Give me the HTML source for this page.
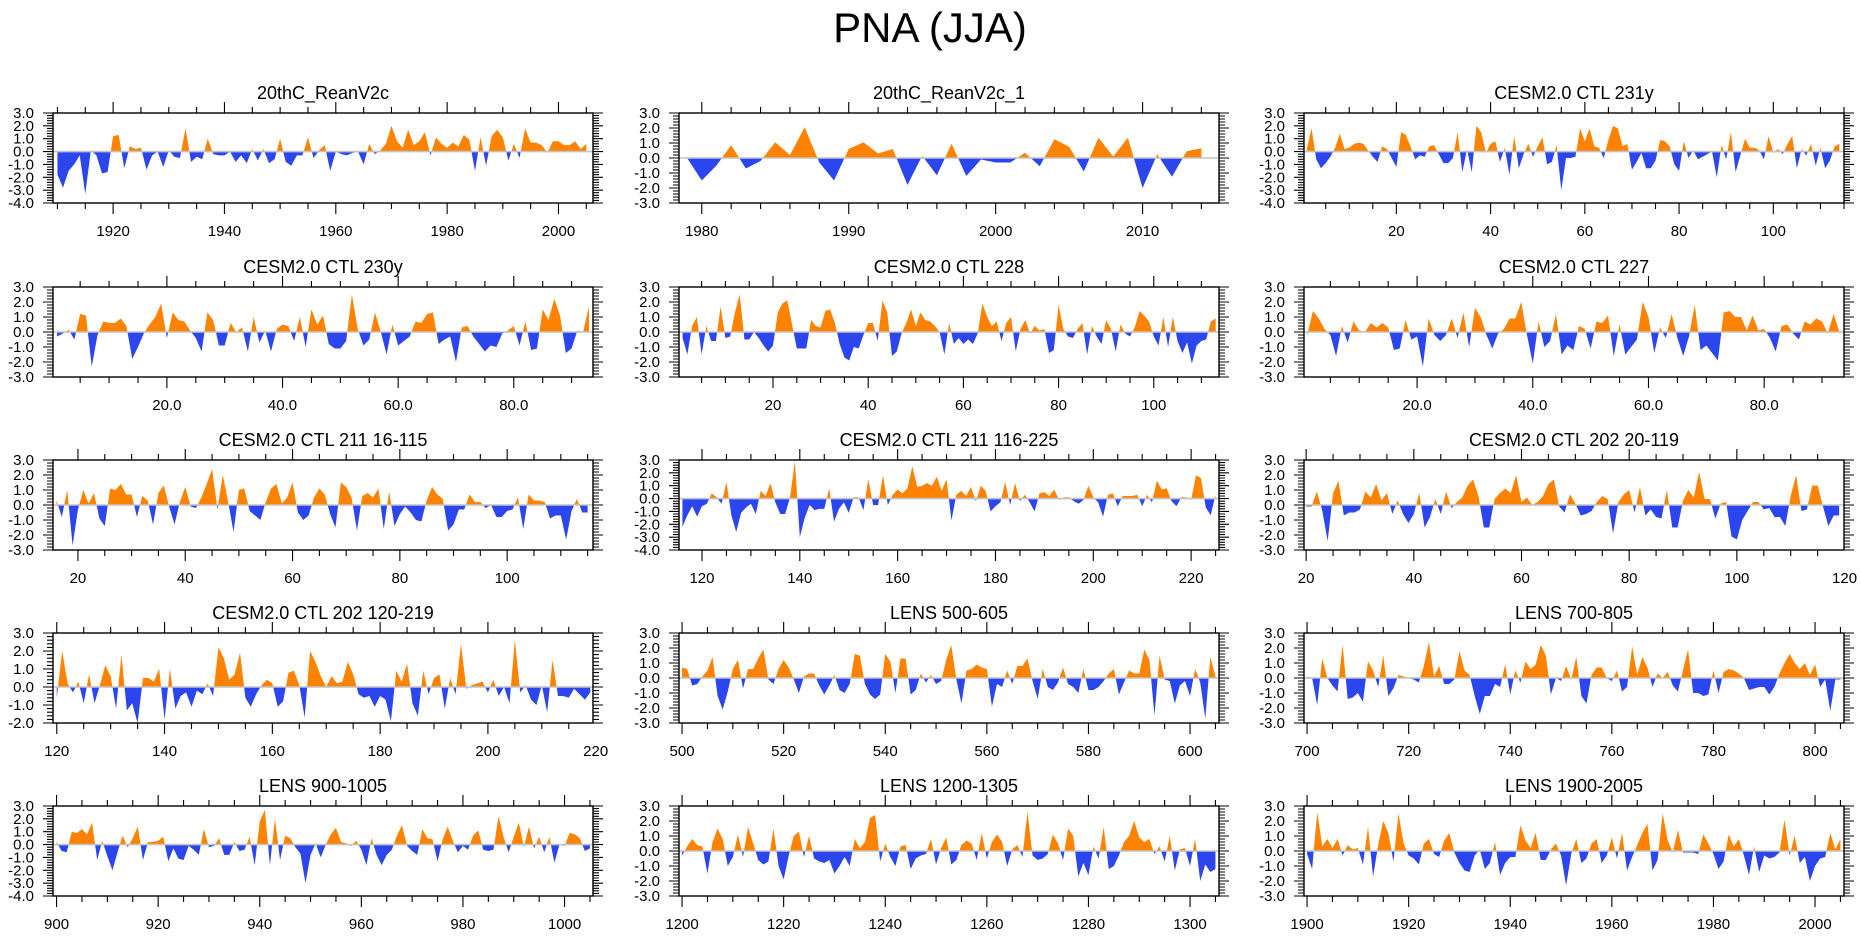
<!DOCTYPE html>
<html>
<head>
<meta charset="utf-8">
<style>
  html,body{margin:0;padding:0;background:#fff;}
  body{width:1861px;height:936px;overflow:hidden;font-family:"Liberation Sans",Arial,sans-serif;}
  svg text{font-family:"Liberation Sans",Arial,sans-serif;}
</style>
</head>
<body>
<svg id="fig" width="1861" height="936" viewBox="0 0 1861 936" xmlns="http://www.w3.org/2000/svg">
  <text x="930" y="42" font-size="42" text-anchor="middle" fill="#000">PNA (JJA)</text>
</svg>
<script>
// ---- data arrays (values per year/step) ----
const p1Title = "20thC_ReanV2c";
const p1Start = 1910;
const p1Values = [-1.8,-2.8,-1.5,-1.0,-0.3,-3.3,0.1,-0.3,-1.7,-1.6,1.2,1.3,-1.3,0.4,0.2,0.3,-1.4,-0.3,0.0,-1.2,0.1,-0.4,-0.5,1.8,-0.8,-0.4,-0.6,1.0,-0.2,-0.3,-0.3,0.0,-0.8,-0.3,-0.9,0.2,-0.7,0.2,-0.9,-0.6,1.0,-0.8,-1.1,-0.3,-0.3,1.1,-0.5,0.1,0.5,-1.5,0.0,-0.2,-0.3,-0.1,0.0,-1.0,0.6,-0.2,0.1,0.6,2.0,0.8,0.3,1.7,0.5,0.8,1.5,-0.3,1.1,0.6,0.3,0.7,0.4,1.3,0.9,-1.5,1.1,-1.1,1.2,1.7,1.1,-0.7,0.6,-0.5,1.8,0.7,0.7,0.5,-0.1,0.8,0.8,0.5,0.5,0.8,0.2,0.6];
const p1Ticks = [1920,1940,1960,1980,2000];

const p2Title = "20thC_ReanV2c_1";
const p2Start = 1979;
const p2Values = [0.0,-1.5,-0.5,0.85,-0.7,-0.2,1.05,0.2,2.05,-0.3,-1.5,0.6,1.05,0.3,0.6,-1.8,0.15,-1.15,0.95,-1.2,-0.1,-0.3,-0.3,0.35,-0.55,1.25,0.75,-0.9,1.35,0.1,1.35,-2.0,0.25,-1.25,0.45,0.65];
const p2Ticks = [1980,1990,2000,2010];

const p3Title = "CESM2.0 CTL 231y";
const p3Start = 1;
const p3Values = [0.2,1.8,-0.6,-1.3,-0.9,-0.4,0.3,1.4,0.2,0.3,0.6,0.7,0.6,0.1,-0.4,-0.8,0.4,0.2,-0.5,-1.2,1.5,1.3,0.4,-0.6,-0.3,-0.4,0.4,0.5,-0.2,-0.9,-0.9,-0.5,1.5,-1.6,0.2,-1.6,2.0,1.5,-0.1,0.6,0.8,-0.8,0.3,-1.8,1.2,-1.3,-0.2,0.6,-0.4,0.4,1.1,-1.0,-0.8,0.5,-3.0,-0.5,-0.5,-0.4,1.8,0.8,1.8,0.4,0.3,-0.5,0.9,2.0,1.8,0.4,0.6,-1.4,-0.8,-0.1,-1.3,-1.3,-0.7,0.9,0.8,0.4,-1.0,-1.5,0.8,-0.5,0.1,-0.6,-0.4,-0.2,0.0,-2.0,0.5,-0.6,1.5,-1.6,-0.3,1.0,0.3,0.3,0.1,-0.6,1.2,-0.1,0.2,-0.2,0.6,1.2,-1.3,0.2,-0.3,0.6,-1.1,0.3,-1.3,-0.7,0.4,0.6];
const p3Ticks = [20,40,60,80,100];

const p4Title = "CESM2.0 CTL 230y";
const p4Start = 1;
const p4Values = [-0.3,-0.1,0.15,-0.5,1.2,1.1,-2.3,-0.2,0.7,0.6,0.6,0.9,0.4,-1.8,-1.0,-0.1,0.5,1.0,1.9,-0.4,1.3,0.8,0.7,0.1,-0.4,-1.3,1.3,0.8,-0.9,-0.9,0.6,0.0,0.3,-1.3,1.0,-0.7,0.1,-1.3,0.2,0.5,0.4,-0.6,1.0,-1.0,1.5,0.5,1.1,-0.8,-1.1,-1.1,-0.6,2.5,0.2,-0.9,-0.5,1.3,0.0,-1.5,0.5,-0.9,-0.6,-0.3,0.7,0.6,1.2,1.3,-0.8,-0.5,-0.3,-2.0,0.3,0.4,-0.3,-0.8,-1.3,-0.9,-1.0,-0.1,0.1,0.4,-0.9,0.7,-1.2,-1.1,1.5,0.8,2.2,1.1,-1.4,-1.1,0.1,0.0,1.7];
const p4Ticks = [20,40,60,80];

const p5Title = "CESM2.0 CTL 228";
const p5Start = 1;
const p5Values = [-0.4,-1.5,0.4,1.0,-1.5,0.4,-0.6,-0.6,1.7,-0.4,-0.3,1.3,2.5,-0.5,-0.5,0.0,-0.4,-0.9,-1.3,-0.9,1.3,1.9,2.1,0.5,-1.1,-1.1,-1.1,0.8,0.4,0.3,1.4,1.5,0.6,-0.8,-1.7,-1.9,-1.0,-1.1,-0.2,0.6,0.6,-0.6,2.1,1.3,-1.6,-1.3,-0.1,0.6,1.5,0.4,1.3,0.8,0.7,0.4,0.0,-1.5,0.6,-0.8,-0.4,-0.8,-0.5,-0.8,-0.1,1.9,1.0,0.4,0.7,-0.6,0.6,1.0,-1.3,0.2,0.8,-0.1,0.4,0.1,0.2,-1.4,-1.2,1.8,0.2,-0.3,-0.4,0.2,0.6,-1.5,0.4,-0.3,-0.8,0.8,0.2,-1.3,0.5,-0.1,-0.3,0.3,1.4,1.1,0.7,-0.3,-0.9,1.0,-1.0,1.0,-0.6,-1.4,-0.7,-2.1,-0.9,-0.6,-0.5,0.7,0.9];
const p5Ticks = [20,40,60,80,100];

const p6Title = "CESM2.0 CTL 227";
const p6Start = 1;
const p6Values = [-0.2,1.4,0.9,0.2,-0.2,-1.6,0.4,-0.7,0.7,0.1,0.0,0.6,0.3,0.6,0.3,-1.2,-1.1,0.8,-0.5,-0.3,-2.3,0.9,-0.2,-0.6,-0.2,0.9,-0.4,1.3,-1.0,1.6,1.0,-0.2,-1.1,-0.1,0.2,0.9,0.9,2.0,-0.2,-2.1,0.7,-1.0,-0.6,1.2,-1.5,-0.9,-1.2,0.4,0.2,-1.1,0.7,0.6,1.1,-1.6,0.5,-1.5,-1.0,-0.5,2.0,1.0,-1.4,0.3,-0.4,1.2,-0.4,-1.6,-0.3,1.8,-1.2,-0.9,-1.4,-1.9,1.3,1.4,1.0,1.0,0.1,1.1,0.1,0.2,-0.4,-1.3,0.4,0.5,-0.1,-0.5,0.7,0.5,0.9,0.7,-0.1,1.2,0.0];
const p6Ticks = [20,40,60,80];

const p7Title = "CESM2.0 CTL 211 16-115";
const p7Start = 16;
const p7Values = [0.3,-0.8,1.0,-2.7,-0.3,1.0,0.1,0.8,-0.9,-1.4,1.1,1.0,1.4,0.7,0.7,-0.8,0.6,0.3,-1.3,0.8,1.3,-0.1,-1.3,0.2,1.2,-0.1,-0.2,0.5,1.4,2.4,-0.3,2.0,0.2,-1.8,1.0,1.1,-0.4,-0.7,-1.0,0.2,1.1,1.4,0.1,0.5,1.5,-0.5,-1.0,-0.7,0.5,1.1,0.7,-0.6,-1.5,1.5,1.2,0.5,-1.7,0.6,0.8,0.5,1.1,-1.6,0.9,-1.4,-0.6,-0.1,-0.5,-1.0,-1.1,0.3,1.2,0.7,0.4,-1.7,-1.3,-0.3,-0.3,0.7,0.2,0.2,-0.2,0.0,-0.8,-0.8,-0.4,-0.3,0.5,-1.6,0.7,0.3,0.3,0.2,-0.9,-0.7,-0.7,-2.3,-0.4,0.4,-0.5,-0.5];
const p7Ticks = [20,40,60,80,100];

const p8Title = "CESM2.0 CTL 211 116-225";
const p8Start = 116;
const p8Values = [-2.2,-1.3,-0.6,-1.4,-0.6,-0.4,0.4,0.1,-0.4,1.3,-1.3,-2.6,-1.1,-0.7,-0.4,-1.2,0.6,0.2,1.2,-0.3,-1.2,-1.2,0.1,2.9,-3.0,-1.5,-0.5,-0.9,-0.8,-0.8,0.8,-1.8,-0.8,-0.3,-1.1,0.1,0.1,-0.9,1.5,-0.5,-0.5,1.8,-0.5,0.3,0.7,0.4,0.8,2.5,0.9,1.0,1.2,1.0,1.7,0.6,1.5,-1.7,0.3,0.6,0.2,0.9,-0.2,1.0,0.6,-1.0,-0.6,-0.3,1.3,-0.5,1.2,-0.2,0.3,-0.3,-1.0,0.4,0.5,0.2,0.7,-0.1,0.1,0.1,-0.2,-0.4,-0.1,1.0,0.1,-0.3,-1.4,0.3,0.4,-0.6,0.2,0.2,0.2,0.3,-0.6,0.3,-0.3,1.4,0.7,0.8,-0.2,-0.6,0.1,0.1,-0.1,1.8,1.6,-0.7,-1.3,0.3];
const p8Ticks = [120,140,160,180,200,220];

const p9Title = "CESM2.0 CTL 202 20-119";
const p9Start = 20;
const p9Values = [-0.1,-0.1,0.9,-0.4,-2.4,0.8,1.6,-0.7,-0.5,-0.5,-0.3,0.9,0.5,1.4,0.3,0.8,-0.6,0.3,-0.6,-1.2,-0.6,0.8,-1.5,-0.8,0.4,-0.6,0.9,-0.2,0.2,0.5,1.3,1.7,0.6,-1.5,-1.5,0.4,0.8,1.1,0.8,2.0,0.2,0.5,0.0,0.2,0.6,1.4,1.7,-0.1,-0.5,0.7,0.1,-0.7,-0.6,-0.4,0.2,0.6,0.4,-1.9,0.2,0.7,1.0,-0.5,1.2,-0.7,-0.3,-0.8,-0.9,1.0,-1.5,-1.5,0.3,1.0,0.5,2.2,0.4,0.4,-0.9,0.1,0.2,-2.1,-2.3,-1.0,-0.4,0.2,0.2,-0.3,-0.2,-0.8,-0.8,-1.4,0.6,2.0,-0.4,-0.3,1.3,1.3,-0.1,-1.4,-0.7,-0.7];
const p9Ticks = [20,40,60,80,100,120];

const p10Title = "CESM2.0 CTL 202 120-219";
const p10Start = 120;
const p10Values = [-0.6,2.0,0.2,-0.3,0.3,-0.9,0.7,-0.9,0.1,1.2,0.6,-1.2,1.8,-1.3,-0.9,-2.0,0.5,0.5,0.3,1.0,-1.8,1.0,-1.2,-0.5,-0.3,-1.1,-0.2,-0.4,0.2,-0.5,2.2,1.6,0.4,0.7,1.9,-0.6,-1.1,-0.4,0.1,0.4,0.2,-1.1,-0.8,0.8,0.9,0.1,-1.7,2.0,1.4,0.6,0.0,0.6,0.2,0.3,1.4,0.7,-0.4,-0.6,-0.5,-1.1,-0.5,-0.7,-1.9,0.9,0.3,1.3,-0.9,-1.6,0.9,-0.4,0.5,0.7,-1.2,0.5,-0.4,2.4,-0.1,0.1,0.2,0.3,-0.3,0.4,-0.5,0.0,-0.9,2.6,-0.3,0.1,-0.7,-1.0,0.1,-1.4,1.5,-0.5,-0.5,-0.6,-0.1,-0.4,-0.7,-0.3];
const p10Ticks = [120,140,160,180,200,220];

const p11Title = "LENS 500-605";
const p11Start = 500;
const p11Values = [0.7,0.6,-0.5,-0.4,0.1,0.5,1.4,-1.2,-2.1,-0.9,0.6,1.2,-0.7,0.6,0.6,1.3,1.9,-0.1,-0.4,0.6,1.2,0.7,-0.1,-1.0,0.1,0.3,0.3,-0.5,-1.1,-0.5,0.2,-0.8,-1.0,-0.4,1.6,1.5,-0.4,-1.1,-1.4,-1.1,1.6,1.1,-1.0,1.3,1.3,-1.1,-0.8,0.3,-0.3,0.2,-0.4,-0.2,1.2,2.2,-0.1,-1.7,0.5,0.6,0.9,0.7,0.6,-1.9,-0.4,-0.6,0.5,-0.4,0.8,0.8,1.3,-0.2,-1.4,0.6,-0.6,-0.8,-0.3,0.7,-0.4,-0.6,-1.0,0.6,-0.8,-0.8,-0.6,-0.2,0.3,0.6,-1.1,-0.3,0.5,0.3,0.3,1.9,1.2,-2.5,1.5,-0.1,-0.2,-1.7,-0.5,-0.2,-1.2,0.6,-0.3,-2.7,1.4,0.1];
const p11Ticks = [500,520,540,560,580,600];

const p12Title = "LENS 700-805";
const p12Start = 700;
const p12Values = [0.1,0.0,-1.8,1.3,0.0,-0.5,-0.9,2.2,-1.4,-1.3,-1.0,-1.6,1.1,0.5,-0.6,1.5,-1.2,-0.7,0.2,0.1,0.0,-0.1,-0.3,0.8,2.4,0.1,0.8,-0.4,-0.4,-0.1,1.8,0.5,0.2,-1.2,-2.4,-1.2,-1.2,-0.4,-0.6,0.9,-1.1,0.5,-0.3,1.1,0.6,0.9,2.2,1.5,-1.1,0.0,-0.2,0.8,-0.1,1.4,-1.2,-1.7,0.2,0.7,0.7,0.0,-0.2,0.5,-0.9,-0.6,2.1,0.2,1.4,0.7,-0.6,0.3,0.0,0.4,-0.5,-0.9,0.5,1.9,-1.0,-1.0,-1.2,-1.1,0.5,-1.0,0.4,0.6,0.5,0.3,0.0,-0.8,-0.7,-0.6,-0.6,-1.1,-0.6,0.3,1.0,1.6,1.0,0.6,1.0,0.2,0.9,-0.6,-0.1,-2.2,-0.1,-0.1];
const p12Ticks = [700,720,740,760,780,800];

const p13Title = "LENS 900-1005";
const p13Start = 900;
const p13Values = [0.2,-0.5,-0.6,1.0,0.9,1.2,0.8,1.7,-1.2,0.3,-0.9,-2.0,-0.6,0.7,-0.2,0.5,1.4,-1.2,0.2,0.2,0.3,0.6,-1.3,-0.3,-1.1,-1.2,-0.1,-0.4,-0.8,1.2,-0.2,-0.1,0.5,-0.8,-0.8,0.2,-0.5,-0.4,0.6,-1.6,1.8,2.7,-1.6,2.0,-1.2,0.7,0.5,-0.2,-0.7,-3.0,-0.8,0.1,-1.0,0.0,0.8,1.3,0.2,0.1,-0.1,0.3,-0.4,-1.6,0.5,-0.8,-1.6,-0.8,-0.4,0.7,1.5,-0.1,-0.5,-0.8,1.2,0.5,0.4,-1.3,0.4,1.4,0.3,-0.6,-0.1,-0.4,0.7,1.1,-0.4,-0.5,-0.4,2.2,0.6,-0.6,0.6,1.7,-0.2,1.4,-0.3,0.6,-0.6,0.6,-1.4,0.0,-0.1,0.9,0.8,0.5,-0.5,-0.3];
const p13Ticks = [900,920,940,960,980,1000];

const p14Title = "LENS 1200-1305";
const p14Start = 1200;
const p14Values = [-0.3,0.3,0.8,0.4,0.3,-1.5,0.6,1.5,0.8,-1.0,-0.4,1.1,-0.4,1.6,0.5,-0.6,-0.9,-0.7,1.5,-1.0,-1.9,-0.3,1.0,1.3,-0.4,1.0,-0.5,-0.7,-0.8,-0.6,-1.5,-1.0,-0.4,-1.0,0.8,0.2,0.6,2.2,2.4,-0.7,0.5,-0.4,-1.0,0.3,0.4,-1.2,-0.5,-0.3,-0.2,0.8,-0.9,0.2,0.9,-0.9,-0.6,0.4,0.7,0.5,-0.6,1.2,-0.5,0.6,1.1,0.6,-1.0,0.1,0.4,-0.4,2.6,-0.3,-0.6,-0.5,-0.2,1.1,0.5,-0.6,1.5,1.0,-1.7,-0.8,-1.6,0.3,-0.5,1.6,-1.2,-1.0,-0.3,0.6,1.0,2.0,0.9,0.6,0.8,-0.2,0.3,-0.7,1.0,-1.3,0.1,0.2,-1.0,0.8,-2.0,-0.9,-1.4,-1.2];
const p14Ticks = [1200,1220,1240,1260,1280,1300];

const p15Title = "LENS 1900-2005";
const p15Start = 1900;
const p15Values = [-0.2,-1.2,2.6,0.3,0.8,0.2,0.8,-0.3,0.4,0.1,0.2,-0.9,1.6,-1.7,0.4,2.0,1.2,-0.7,2.5,0.5,-0.3,-0.5,-0.9,0.5,0.8,-0.2,-0.4,0.7,1.2,-0.1,-0.8,-1.3,-1.4,-0.3,0.1,-1.2,-0.8,0.6,-1.6,-0.8,-0.4,-0.4,1.7,0.7,0.2,1.2,-0.6,-0.6,0.1,0.5,-0.3,-2.3,-0.2,0.8,-0.8,-0.5,0.5,0.8,-0.8,-0.3,0.9,-0.5,1.2,-1.3,-0.4,0.4,1.2,1.8,-1.3,-0.6,2.5,0.7,-0.1,1.4,-0.1,-0.1,-0.1,-0.2,1.1,0.5,-0.2,-1.2,-0.7,1.1,0.3,0.8,-0.3,-1.6,0.3,-1.4,-0.3,-0.5,-0.4,-0.1,2.1,-0.3,1.0,-0.8,-0.4,-2.0,-1.0,-0.5,-0.4,1.2,0.1,0.8];
const p15Ticks = [1900,1920,1940,1960,1980,2000];

// ---- layout (not data) ----
const SVGNS = "http://www.w3.org/2000/svg";
const fig = document.getElementById('fig');
const colLeft = [53, 679, 1304];
const rowTop = [113, 287, 460, 633, 806];
const PW = 540, PH = 90;

const panels = [
  {t:p1Title, s:p1Start, v:p1Values, ticks:p1Ticks, xmin:1909.2, xmax:2006.2, ymin:-4, minor:5, dec:0, name:"reanv2c"},
  {t:p2Title, s:p2Start, v:p2Values, ticks:p2Ticks, xmin:1978.45, xmax:2015.2, ymin:-3, minor:2, dec:0, name:"reanv2c-1"},
  {t:p3Title, s:p3Start, v:p3Values, ticks:p3Ticks, xmin:0.4, xmax:115.0, ymin:-4, minor:5, dec:0, name:"ctl-231y"},
  {t:p4Title, s:p4Start, v:p4Values, ticks:p4Ticks, xmin:0.3, xmax:93.7, ymin:-3, minor:5, dec:1, name:"ctl-230y"},
  {t:p5Title, s:p5Start, v:p5Values, ticks:p5Ticks, xmin:0.25, xmax:113.7, ymin:-3, minor:5, dec:0, name:"ctl-228"},
  {t:p6Title, s:p6Start, v:p6Values, ticks:p6Ticks, xmin:0.45, xmax:93.8, ymin:-3, minor:5, dec:1, name:"ctl-227"},
  {t:p7Title, s:p7Start, v:p7Values, ticks:p7Ticks, xmin:15.35, xmax:116.0, ymin:-3, minor:5, dec:0, name:"ctl-211-16-115"},
  {t:p8Title, s:p8Start, v:p8Values, ticks:p8Ticks, xmin:115.3, xmax:225.7, ymin:-4, minor:5, dec:0, name:"ctl-211-116-225"},
  {t:p9Title, s:p9Start, v:p9Values, ticks:p9Ticks, xmin:19.6, xmax:119.9, ymin:-3, minor:5, dec:0, name:"ctl-202-20-119"},
  {t:p10Title, s:p10Start, v:p10Values, ticks:p10Ticks, xmin:119.3, xmax:219.5, ymin:-2, minor:5, dec:0, name:"ctl-202-120-219"},
  {t:p11Title, s:p11Start, v:p11Values, ticks:p11Ticks, xmin:499.4, xmax:605.7, ymin:-3, minor:5, dec:0, name:"lens-500-605"},
  {t:p12Title, s:p12Start, v:p12Values, ticks:p12Ticks, xmin:699.4, xmax:805.7, ymin:-3, minor:5, dec:0, name:"lens-700-805"},
  {t:p13Title, s:p13Start, v:p13Values, ticks:p13Ticks, xmin:899.3, xmax:1005.6, ymin:-4, minor:5, dec:0, name:"lens-900-1005"},
  {t:p14Title, s:p14Start, v:p14Values, ticks:p14Ticks, xmin:1199.4, xmax:1305.7, ymin:-3, minor:5, dec:0, name:"lens-1200-1305"},
  {t:p15Title, s:p15Start, v:p15Values, ticks:p15Ticks, xmin:1899.4, xmax:2005.7, ymin:-3, minor:5, dec:0, name:"lens-1900-2005"}
];

function mk(tag, attrs, parent){
  const e = document.createElementNS(SVGNS, tag);
  for (const k in attrs) e.setAttribute(k, attrs[k]);
  parent.appendChild(e);
  return e;
}

panels.forEach((p, idx) => {
  const L = colLeft[idx % 3], T = rowTop[Math.floor(idx / 3)];
  const R = L + PW, B = T + PH;
  const ymax = 3, ymin = p.ymin;
  const sx = x => L + (x - p.xmin) / (p.xmax - p.xmin) * PW;
  const sy = y => T + (ymax - y) / (ymax - ymin) * PH;

  const g = mk('g', {}, fig);
  
  

  // title
  const tt = mk('text', {x: L + PW/2, y: T - 14, 'font-size': 18, 'text-anchor': 'middle', fill: '#000'}, g);
  tt.textContent = p.t;
  
  

  // build points with zero crossings
  const pts = [];
  for (let i = 0; i < p.v.length; i++) {
    const x = p.s + i, y = p.v[i];
    if (i > 0) {
      const x0 = p.s + i - 1, y0 = p.v[i-1];
      if ((y0 > 0 && y < 0) || (y0 < 0 && y > 0)) {
        const xc = x0 + (0 - y0) / (y - y0);
        pts.push([xc, 0]);
      }
    }
    pts.push([x, y]);
  }
  const first = pts[0][0], last = pts[pts.length-1][0];
  let posD = 'M' + sx(first).toFixed(2) + ',' + sy(0).toFixed(2);
  let negD = posD;
  pts.forEach(pt => {
    posD += ' L' + sx(pt[0]).toFixed(2) + ',' + sy(Math.max(pt[1], 0)).toFixed(2);
    negD += ' L' + sx(pt[0]).toFixed(2) + ',' + sy(Math.min(pt[1], 0)).toFixed(2);
  });
  posD += ' L' + sx(last).toFixed(2) + ',' + sy(0).toFixed(2) + ' Z';
  negD += ' L' + sx(last).toFixed(2) + ',' + sy(0).toFixed(2) + ' Z';

  const pos = mk('path', {d: posD, fill: '#ff8200', stroke: 'none'}, g);
  
  
  const neg = mk('path', {d: negD, fill: '#2b46ee', stroke: 'none'}, g);
  
  

  // zero reference line
  const zl = mk('line', {x1: L, x2: R, y1: sy(0), y2: sy(0), stroke: '#c4c4c4', 'stroke-width': 1.6}, g);
  
  

  // ticks
  let tickD = '';
  // y ticks (left and right, outward)
  for (let k = 0; k <= (ymax - ymin) * 5; k++) {
    const val = ymin + k * 0.2;
    const y = sy(val).toFixed(2);
    const major = (k % 5 === 0);
    const len = major ? 10 : 6;
    tickD += 'M' + L + ',' + y + 'h' + (-len) + ' M' + R + ',' + y + 'h' + len + ' ';
  }
  // x ticks (bottom and top, outward)
  const mstart = Math.ceil(p.xmin / p.minor) * p.minor;
  for (let x = mstart; x <= p.xmax; x += p.minor) {
    const major = p.ticks.indexOf(x) >= 0;
    const len = major ? 11 : 6;
    const X = sx(x).toFixed(2);
    tickD += 'M' + X + ',' + B + 'v' + len + ' M' + X + ',' + T + 'v' + (-len) + ' ';
  }
  const tk = mk('path', {d: tickD, stroke: '#000', 'stroke-width': 1.1, fill: 'none'}, g);
  
  

  // frame
  const fr = mk('rect', {x: L, y: T, width: PW, height: PH, fill: 'none', stroke: '#000', 'stroke-width': 1.4}, g);
  
  

  // y labels
  for (let v = ymax; v >= ymin; v--) {
    const t = mk('text', {x: L - 19, y: sy(v) + 5, 'font-size': 15, 'text-anchor': 'end', fill: '#000'}, g);
    t.textContent = v.toFixed(1);
    
    
  }
  // x labels
  p.ticks.forEach(x => {
    const t = mk('text', {x: sx(x), y: B + 33, 'font-size': 15, 'text-anchor': 'middle', fill: '#000'}, g);
    t.textContent = x.toFixed(p.dec);
    
    
  });
});
</script>
</body>
</html>
